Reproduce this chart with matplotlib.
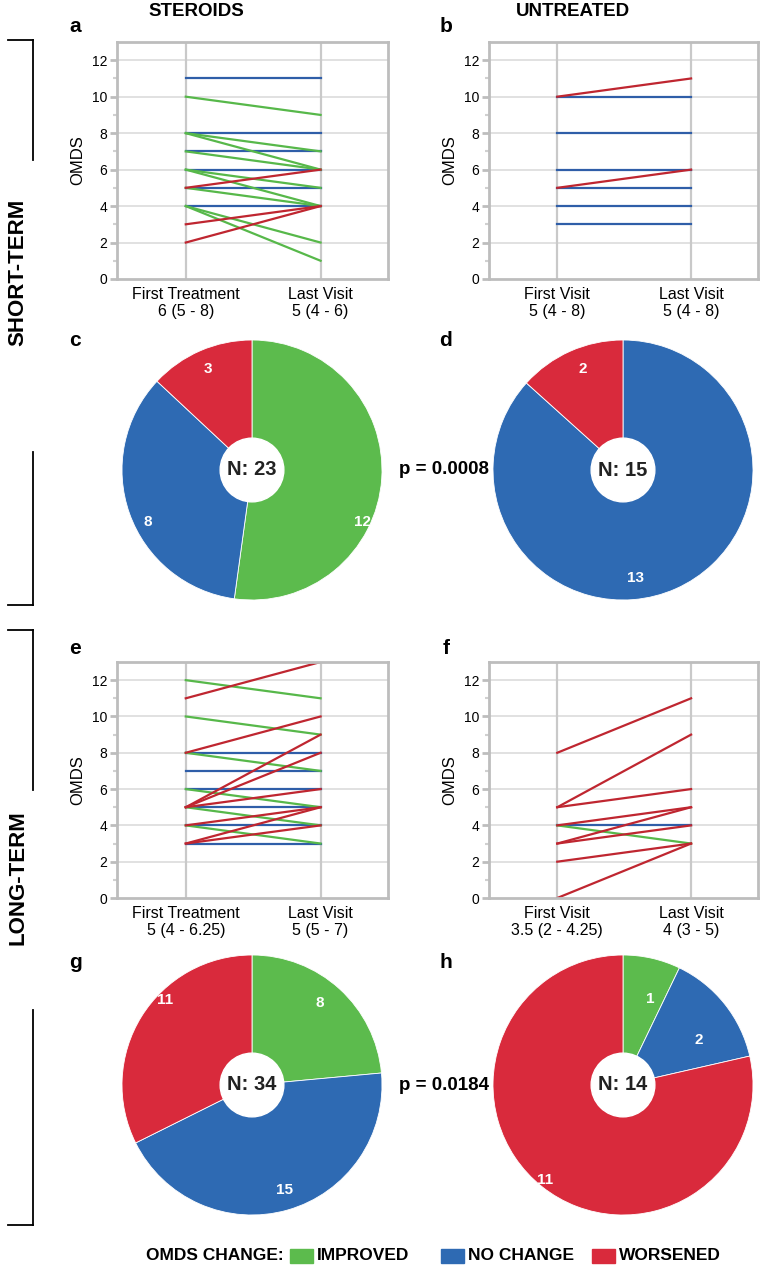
import matplotlib

matplotlib.use("Agg")

import matplotlib.pyplot as plt
from matplotlib.lines import Line2D
from matplotlib.patches import Circle, Rectangle

plt.rcParams["font.family"] = ["Liberation Sans", "DejaVu Sans"]

W, H = 761, 1268

# OMDS at first and last visit, one pair per drawn line
a_first = [11, 8, 7, 6, 5, 4, 10, 8, 8, 7, 6, 6, 5, 4, 4, 5, 3, 2]
a_last = [11, 8, 7, 6, 5, 4, 9, 7, 6, 6, 5, 4, 4, 2, 1, 6, 4, 4]
a_change = ["n"] * 6 + ["i"] * 9 + ["w"] * 3

b_first = [10, 8, 6, 5, 4, 3, 10, 5]
b_last = [10, 8, 6, 5, 4, 3, 11, 6]
b_change = ["n"] * 6 + ["w"] * 2

e_first = [8, 7, 6, 5, 4, 3, 12, 10, 8, 6, 5, 4, 11, 8, 5, 5, 5, 4, 3, 3]
e_last = [8, 7, 6, 5, 4, 3, 11, 9, 7, 5, 4, 3, 13, 10, 9, 8, 6, 5, 5, 4]
e_change = ["n"] * 6 + ["i"] * 6 + ["w"] * 8

f_first = [4, 4, 8, 5, 5, 4, 3, 3, 2, 0]
f_last = [4, 3, 11, 9, 6, 5, 5, 4, 3, 3]
f_change = ["n", "i"] + ["w"] * 8

# patient counts: improved, no change, worsened
c_counts = [12, 8, 3]
d_counts = [0, 13, 2]
g_counts = [8, 15, 11]
h_counts = [1, 2, 11]

a_ticks = ["First Treatment\n6 (5 - 8)", "Last Visit\n5 (4 - 6)"]
b_ticks = ["First Visit\n5 (4 - 8)", "Last Visit\n5 (4 - 8)"]
e_ticks = ["First Treatment\n5 (4 - 6.25)", "Last Visit\n5 (5 - 7)"]
f_ticks = ["First Visit\n3.5 (2 - 4.25)", "Last Visit\n4 (3 - 5)"]

# where the count labels sit inside each pie (fraction of radius)
c_label_xy = [(0.85, -0.40), (-0.80, -0.40), (-0.34, 0.78)]
d_label_xy = [None, (0.10, -0.83), (-0.31, 0.78)]
g_label_xy = [(0.52, 0.63), (0.25, -0.81), (-0.67, 0.65)]
h_label_xy = [(0.21, 0.66), (0.58, 0.35), (-0.60, -0.73)]

line_col = {"i": "#57b84a", "n": "#2f5ea8", "w": "#bf2630"}
pie_col = ["#5cbb4d", "#2e6ab3", "#d92a3c"]
GRAY = "#bdbdbd"


def fx(x):
    return x / W


def fy(y):
    return 1 - y / H


def px_axes(fig, x0, y0, x1, y1):
    return fig.add_axes([fx(x0), fy(y1), (x1 - x0) / W, (y1 - y0) / H])


def line_panel(fig, box, first, last, change, ticks):
    ax = px_axes(fig, *box)
    for y in range(2, 13, 2):
        ax.axhline(y, color="#dcdcdc", lw=1.2, zorder=0)
    for x in (1, 2):
        ax.axvline(x, color="#c9c9c9", lw=1.6, zorder=0)
    for y0, y1, c in zip(first, last, change):
        ax.plot([1, 2], [y0, y1], color=line_col[c], lw=1.6, zorder=2)
    ax.set_xlim(0.49, 2.5)
    ax.set_ylim(0, 13)
    ax.set_yticks(range(0, 13, 2))
    ax.set_yticks(range(0, 13), minor=True)
    ax.set_xticks([1, 2])
    ax.set_xticklabels(ticks, fontsize=11.5, linespacing=1.15)
    ax.tick_params(axis="x", length=0, pad=6)
    ax.tick_params(axis="y", which="major", length=5, width=2, color=GRAY,
                   labelsize=10, pad=2)
    ax.tick_params(axis="y", which="minor", length=3, width=1.5, color="#d0d0d0")
    for s in ax.spines.values():
        s.set_color(GRAY)
        s.set_linewidth(2)
    ax.set_ylabel("OMDS", fontsize=12, labelpad=5)
    return ax


def pie_panel(fig, cx, cy, r, counts, label_xy):
    ax = px_axes(fig, cx - r, cy - r, cx + r, cy + r)
    vals = [v for v in counts if v > 0]
    cols = [c for v, c in zip(counts, pie_col) if v > 0]
    ax.pie(vals, colors=cols, startangle=90, counterclock=False, radius=1,
           wedgeprops=dict(linewidth=0.6, edgecolor="white"))
    for v, xy in zip(counts, label_xy):
        if v > 0:
            ax.text(xy[0], xy[1], str(v), ha="center", va="center", color="white",
                    fontsize=11, fontweight="bold")
    ax.add_patch(Circle((0, 0), 0.245, color="white", zorder=3))
    ax.text(0, 0, f"N: {sum(counts)}", ha="center", va="center", fontsize=14.5,
            fontweight="bold", color="#222222", zorder=4)
    ax.set_xlim(-1, 1)
    ax.set_ylim(-1, 1)
    ax.set_aspect("equal")
    ax.axis("off")
    return ax


fig = plt.figure(figsize=(W / 100, H / 100), dpi=100)

line_panel(fig, (117, 42, 388, 279), a_first, a_last, a_change, a_ticks)
line_panel(fig, (489, 42, 758, 279), b_first, b_last, b_change, b_ticks)
line_panel(fig, (117, 662, 388, 898), e_first, e_last, e_change, e_ticks)
line_panel(fig, (489, 662, 758, 898), f_first, f_last, f_change, f_ticks)

pie_panel(fig, 252, 470, 130, c_counts, c_label_xy)
pie_panel(fig, 623, 470, 130, d_counts, d_label_xy)
pie_panel(fig, 252, 1085, 130, g_counts, g_label_xy)
pie_panel(fig, 623, 1085, 130, h_counts, h_label_xy)

head = dict(ha="center", va="center", fontsize=13.5, fontweight="bold")
fig.text(fx(196), fy(12), "STEROIDS", **head)
fig.text(fx(573), fy(12), "UNTREATED", **head)

for letter, x, y in [("a", 75, 27), ("b", 446, 27), ("c", 75, 340), ("d", 446, 340),
                     ("e", 75, 648), ("f", 446, 648), ("g", 75, 962), ("h", 446, 962)]:
    fig.text(fx(x), fy(y), letter, ha="center", va="center", fontsize=15,
             fontweight="bold")

fig.text(fx(444), fy(470), "p = 0.0008", ha="center", va="center", fontsize=13.5,
         fontweight="bold")
fig.text(fx(444), fy(1085), "p = 0.0184", ha="center", va="center", fontsize=13.5,
         fontweight="bold")

side = dict(ha="center", va="center", rotation=90, fontsize=16, fontweight="bold")
fig.text(fx(18), fy(272), "SHORT-TERM", **side)
fig.text(fx(18), fy(878), "LONG-TERM", **side)


def fig_line(xs, ys):
    fig.add_artist(Line2D([fx(x) for x in xs], [fy(y) for y in ys],
                          color="black", lw=1.3, transform=fig.transFigure))


# brackets around the row labels
fig_line([8, 33], [40, 40])
fig_line([33, 33], [40, 160])
fig_line([33, 33], [452, 605])
fig_line([8, 33], [605, 605])
fig_line([8, 33], [630, 630])
fig_line([33, 33], [630, 790])
fig_line([33, 33], [1010, 1225])
fig_line([8, 33], [1225, 1225])

# legend
leg_y = 1256
leg_font = dict(va="center", fontsize=12.5, fontweight="bold")
fig.text(fx(284), fy(leg_y), "OMDS CHANGE:", ha="right", **leg_font)
for x, col, lab in [(290, pie_col[0], "IMPROVED"), (441, pie_col[1], "NO CHANGE"),
                    (592, pie_col[2], "WORSENED")]:
    fig.add_artist(Rectangle((fx(x), fy(leg_y + 7)), 23 / W, 14 / H, color=col,
                             transform=fig.transFigure))
    fig.text(fx(x + 27), fy(leg_y), lab, ha="left", **leg_font)

fig.savefig("out.png", dpi=100)
